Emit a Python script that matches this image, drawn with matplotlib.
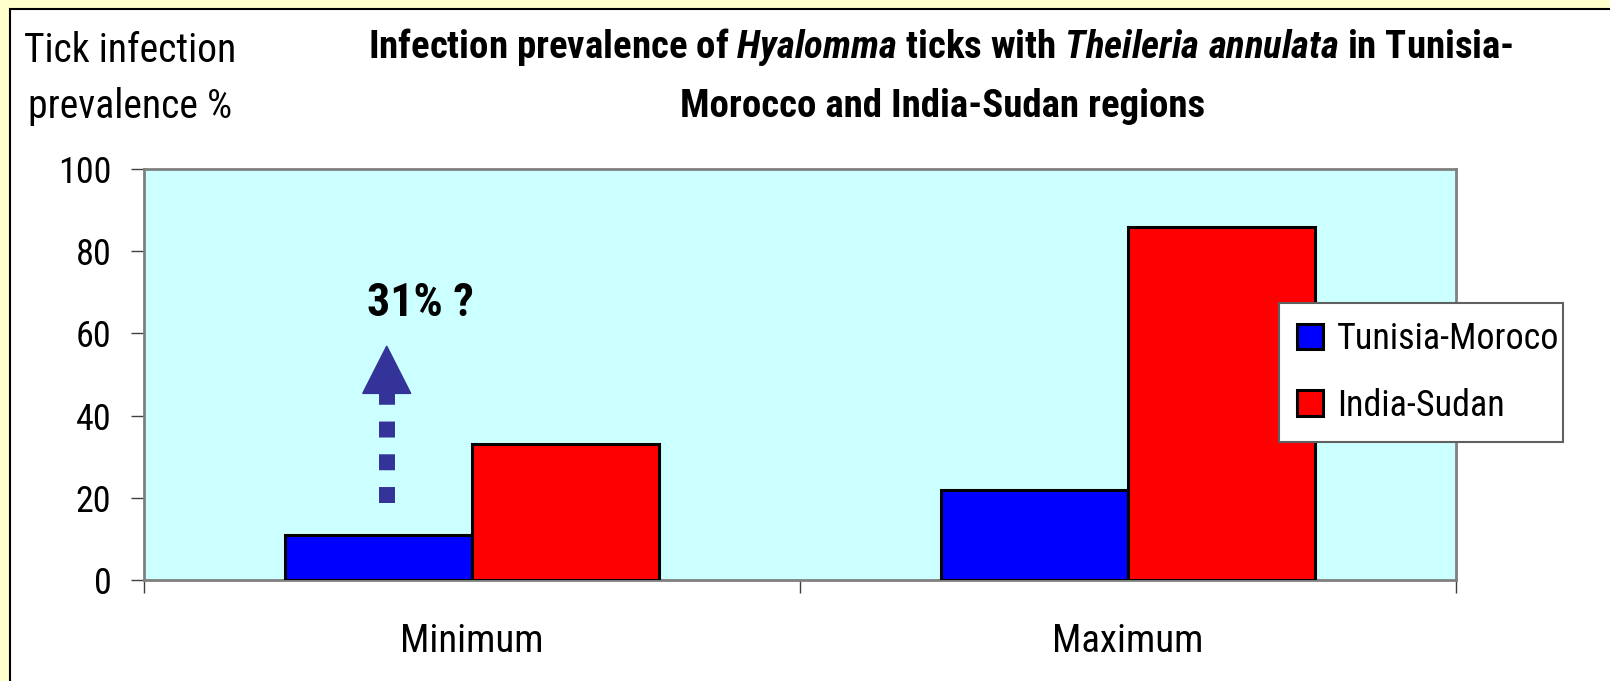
import numpy as np
import matplotlib
matplotlib.use("Agg")
import matplotlib.pyplot as plt
from matplotlib.patches import Rectangle

# chart data
categories = ['Minimum', 'Maximum']
series_names = ['Tunisia-Moroco', 'India-Sudan']
tunisia_morocco = [11, 22]
india_sudan = [33, 86]
y_ticks = [0, 20, 40, 60, 80, 100]

narrow = 'Roboto Condensed'
plt.rcParams['font.family'] = [narrow, 'DejaVu Sans']
plt.rcParams['font.weight'] = 400
plt.rcParams['mathtext.fontset'] = 'custom'
plt.rcParams['mathtext.it'] = narrow + ':italic:bold'
plt.rcParams['mathtext.rm'] = narrow + ':bold'

W, H = 1610, 681
fig = plt.figure(figsize=(W / 100, H / 100), dpi=100)
fig.patch.set_facecolor('#FFFFCC')
# white panel with black frame (yellow margin top/left)
fig.patches.append(Rectangle((10 / W, -0.05), 1.1, 1 - 9 / H + 0.05,
                             transform=fig.transFigure, facecolor='white',
                             edgecolor='black', linewidth=1.5, zorder=-5))

ax = fig.add_axes([144 / W, 1 - 580 / H, 1312 / W, 411 / H])
ax.set_facecolor('#CCFFFF')

x = np.arange(len(categories))
w = 1 / 3.5
ax.bar(x - w / 2, tunisia_morocco, w, color='#0000FF', edgecolor='black',
       linewidth=2.2, label=series_names[0], zorder=3)
ax.bar(x + w / 2, india_sudan, w, color='#FF0000', edgecolor='black',
       linewidth=2.2, label=series_names[1], zorder=3)

ax.set_xlim(-0.5, 1.5)
ax.set_ylim(0, 100)
ax.set_yticks(y_ticks)
ax.set_xticks(x)
ax.set_xticklabels(categories, fontsize=28)
ax.set_xticks([-0.5, 0.5, 1.5], minor=True)
ax.tick_params(axis='x', which='major', length=0, pad=31)
ax.tick_params(axis='x', which='minor', length=9, width=1, color='#404040')
ax.tick_params(axis='y', length=9.5, width=1, color='#404040', pad=14, labelsize=26)
for s in ax.spines.values():
    s.set_color('#808080')
    s.set_linewidth(2)

# dotted arrow and the "31% ?" note
ax_x = -0.13
ax.plot([ax_x, ax_x], [18.8, 45.4], color='#333399', linewidth=11.5,
        dashes=(1.0, 1.05), solid_capstyle='butt', dash_capstyle='butt', zorder=4)
hw = 24 / 656
ax.fill([ax_x - hw, ax_x + hw, ax_x], [45.4, 45.4, 56.9], color='#333399', zorder=4)
ax.text(-0.078, 67.4, '31% ?', fontsize=33, fontweight='bold', ha='center',
        va='center', zorder=5)

# y label in two lines
fig.text(130 / W, 1 - 62 / H, 'Tick infection', fontsize=28.5, ha='center', va='baseline')
fig.text(130 / W, 1 - 118 / H, 'prevalence %', fontsize=28.5, ha='center', va='baseline')

# title
fig.text(941 / W, 1 - 58 / H,
         r'Infection prevalence of $Hyalomma$ ticks with $Theileria\ annulata$ in Tunisia-',
         fontsize=28, fontweight='bold', ha='center', va='baseline')
fig.text(943 / W, 1 - 117 / H, 'Morocco and India-Sudan regions',
         fontsize=28, fontweight='bold', ha='center', va='baseline')

leg = ax.legend(loc='upper left', bbox_to_anchor=(1279 / W, 1 - 440 / H, 284 / W, 137 / H),
                bbox_transform=fig.transFigure, mode='expand', borderaxespad=0,
                fontsize=26, handlelength=0.72, handleheight=0.72, handletextpad=0.38,
                labelspacing=0.85, borderpad=0.5, fancybox=False, framealpha=1)
leg.get_frame().set_edgecolor('#606060')
leg.get_frame().set_linewidth(1.5)

fig.savefig('out.png', dpi=100, facecolor=fig.get_facecolor())
